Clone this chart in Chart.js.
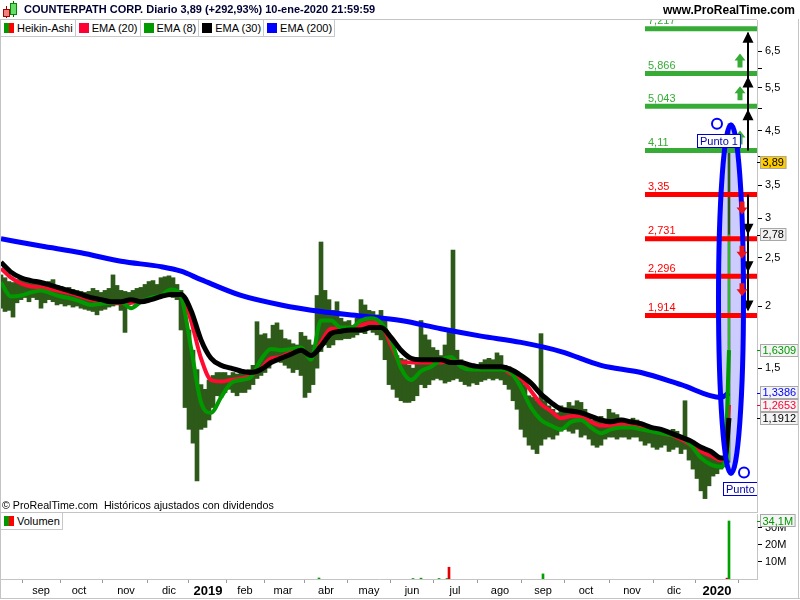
<!DOCTYPE html>
<html lang="es">
<head>
<meta charset="utf-8">
<title>CounterPath Corp. - Heikin-Ashi diario</title>
<script src="https://cdn.jsdelivr.net/npm/chart.js@4.4.1/dist/chart.umd.min.js"></script>
<style>
  html, body { margin: 0; padding: 0; background: #fff; }
  body { font-family: "Liberation Sans", Arial, sans-serif; color: #000; }
  #marco { position: relative; width: 800px; height: 600px; overflow: hidden; background: #fff; }
  canvas { position: absolute; left: 0; }
  #cPrecio { top: 0; }
  #cVolumen { top: 513px; }
  .capa { position: absolute; white-space: nowrap; }
  .linea { position: absolute; background: #c4c4c4; }
  #cabecera { left: 0; top: 0; width: 800px; height: 19px; background: #fff; }
  #titulo { left: 24px; top: 3px; font-weight: bold; font-size: 11px; color: #000033; }
  #web { right: 5px; top: 3px; font-weight: bold; font-size: 12px; color: #000; }
  .leyenda { display: flex; background: #fff; border-bottom: 1px solid #c8c8c8; }
  .item { display: flex; align-items: center; padding: 0 2px 0 3px; height: 16px; border-right: 1px solid #c8c8c8; font-size: 11px; }
  .icono { width: 10px; height: 10px; margin-right: 3px; }
  #copy { left: 2px; top: 499px; font-size: 10.7px; }
</style>
</head>
<body>
<div id="marco">
  <canvas id="cPrecio" width="800" height="513"></canvas>
  <canvas id="cVolumen" width="800" height="87"></canvas>

  <div id="cabecera" class="capa"></div>
  <!-- icono de velas -->
  <div class="capa" style="left:6px;top:6px;width:1px;height:12px;background:#900"></div>
  <div class="capa" style="left:3px;top:9px;width:5px;height:6px;background:#f08080;border:1px solid #a00"></div>
  <div class="capa" style="left:13px;top:1px;width:1px;height:16px;background:#060"></div>
  <div class="capa" style="left:10px;top:3px;width:5px;height:10px;background:#66dd66;border:1px solid #080"></div>
  <div id="titulo" class="capa">COUNTERPATH CORP. Diario 3,89 (+292,93%) 10-ene-2020 21:59:59</div>
  <div id="web" class="capa">www.ProRealTime.com</div>

  <div class="linea" style="left:0;top:19px;width:757px;height:1px"></div>
  <div class="linea" style="left:0;top:512px;width:757px;height:1px"></div>
  <div class="linea" style="left:0;top:19px;width:1px;height:580px"></div>
  <div class="linea" style="left:798px;top:19px;width:1px;height:580px"></div>
  <div class="linea" style="left:0;top:598px;width:800px;height:1px"></div>

  <div class="capa leyenda" style="left:1px;top:20px">
    <div class="item"><span class="icono" style="background:linear-gradient(90deg,#009900 50%,#ff0000 50%)"></span>Heikin-Ashi</div>
    <div class="item"><span class="icono" style="background:#ff0033"></span>EMA (20)</div>
    <div class="item"><span class="icono" style="background:#009900"></span>EMA (8)</div>
    <div class="item"><span class="icono" style="background:#000"></span>EMA (30)</div>
    <div class="item"><span class="icono" style="background:#0000ff"></span>EMA (200)</div>
  </div>
  <div id="copy" class="capa">© ProRealTime.com&nbsp; Históricos ajustados con dividendos</div>
  <div class="capa leyenda" style="left:1px;top:513px">
    <div class="item"><span class="icono" style="background:linear-gradient(90deg,#009900 50%,#ff0000 50%)"></span>Volumen</div>
  </div>
</div>

<script>
/* =========================
   DATOS
========================= */
// velas Heikin-Ashi, una cada 2 sesiones: máximo y mínimo
const haMax = [
  2.31, 2.28, 2.24, 2.23, 2.26, 2.27, 2.25, 2.23, 2.26, 2.24,
  2.21, 2.23, 2.24, 2.26, 2.20, 2.19, 2.17, 2.18, 2.16, 2.15,
  2.14, 2.13, 2.14, 2.17, 2.15, 2.13, 2.15, 2.17, 2.31, 2.20,
  2.15, 2.14, 2.13, 2.15, 2.17, 2.18, 2.21, 2.24, 2.25, 2.21,
  2.28, 2.29, 2.30, 2.28, 2.21, 2.15, 2.06, 1.79, 1.63, 1.49,
  1.39, 1.36, 1.42, 1.45, 1.47, 1.47, 1.47, 1.45, 1.47, 1.46,
  1.47, 1.47, 1.49, 1.52, 1.86, 1.75, 1.76, 1.72, 1.83, 1.85,
  1.79, 1.72, 1.71, 1.68, 1.67, 1.77, 1.74, 1.71, 1.67, 2.10,
  2.69, 2.15, 2.06, 1.96, 2.04, 1.89, 1.86, 1.87, 1.83, 1.89,
  2.06, 2.01, 1.96, 1.95, 1.92, 1.96, 1.87, 1.75, 1.63, 1.59,
  1.57, 1.56, 1.52, 1.50, 1.56, 1.87, 1.75, 1.71, 1.65, 1.63,
  1.59, 1.67, 1.79, 2.59, 1.63, 1.56, 1.54, 1.52, 1.53, 1.52,
  1.54, 1.56, 1.57, 1.56, 1.61, 1.59, 1.52, 1.51, 1.49, 1.45,
  1.42, 1.39, 1.32, 1.31, 1.29, 1.76, 1.29, 1.26, 1.24, 1.22,
  1.26, 1.25, 1.28, 1.26, 1.29, 1.28, 1.24, 1.19, 1.18, 1.19,
  1.20, 1.18, 1.24, 1.22, 1.21, 1.19, 1.18, 1.17, 1.19, 1.18,
  1.14, 1.14, 1.15, 1.13, 1.14, 1.12, 1.13, 1.11, 1.13, 1.12,
  1.10, 1.29, 1.08, 1.07, 1.05, 1.04, 1.03, 1.00, 0.99, 0.98,
  0.99, 0.99, 4.65
];
const haMin = [
  1.98, 1.95, 1.96, 1.90, 2.03, 2.06, 2.08, 2.04, 2.08, 2.06,
  1.98, 2.03, 2.06, 2.04, 2.01, 2.02, 2.00, 2.01, 1.99, 2.00,
  1.98, 1.97, 1.96, 1.95, 1.92, 1.96, 1.97, 1.99, 2.00, 2.01,
  1.96, 1.77, 2.01, 2.03, 2.04, 2.06, 2.07, 2.08, 2.08, 2.07,
  2.10, 2.09, 2.10, 2.08, 2.06, 1.79, 1.25, 1.13, 1.06, 0.89,
  1.13, 1.14, 1.18, 1.25, 1.32, 1.31, 1.34, 1.36, 1.34, 1.32,
  1.34, 1.34, 1.36, 1.39, 1.43, 1.45, 1.47, 1.50, 1.54, 1.56,
  1.54, 1.52, 1.50, 1.47, 1.49, 1.45, 1.31, 1.34, 1.39, 1.50,
  1.62, 1.67, 1.65, 1.67, 1.71, 1.71, 1.72, 1.72, 1.73, 1.75,
  1.77, 1.76, 1.79, 1.77, 1.75, 1.71, 1.56, 1.39, 1.36, 1.31,
  1.29, 1.28, 1.28, 1.29, 1.32, 1.39, 1.37, 1.39, 1.42, 1.43,
  1.42, 1.40, 1.41, 1.42, 1.43, 1.41, 1.39, 1.38, 1.40, 1.39,
  1.41, 1.42, 1.43, 1.42, 1.43, 1.42, 1.39, 1.36, 1.29, 1.24,
  1.13, 1.09, 1.05, 1.03, 1.01, 1.05, 1.08, 1.09, 1.08, 1.10,
  1.12, 1.13, 1.12, 1.11, 1.13, 1.09, 1.10, 1.08, 1.05, 1.04,
  1.05, 1.08, 1.09, 1.09, 1.08, 1.09, 1.09, 1.08, 1.09, 1.09,
  1.07, 1.05, 1.06, 1.04, 1.03, 1.04, 1.05, 1.02, 1.03, 1.04,
  1.01, 1.03, 0.98, 0.94, 0.90, 0.85, 0.82, 0.87, 0.91, 0.92,
  0.94, 0.95, 0.97
];
// cuerpo de la última vela (apertura, cierre HA)
const cuerpoUltima = [0.98, 2.78];

// medias móviles, muestreadas en estas sesiones
const diasEma = [
  0, 5, 10, 15, 20, 25, 30, 35, 40, 45,
  50, 55, 60, 65, 70, 75, 80, 85, 90, 95,
  100, 105, 110, 115, 120, 125, 130, 135, 140, 145,
  150, 155, 160, 165, 170, 175, 180, 185, 190, 195,
  200, 205, 210, 215, 220, 225, 230, 235, 240, 245,
  250, 255, 260, 265, 270, 275, 280, 285, 290, 295,
  300, 305, 310, 315, 320, 325, 330, 335, 340, 345,
  350, 355, 360, 362, 364
];
const ema8 = [
  2.23, 2.09, 2.10, 2.13, 2.15, 2.12, 2.09, 2.07, 2.04, 2.01,
  2.02, 2.03, 2.04, 1.98, 2.04, 2.08, 2.10, 2.16, 2.09, 1.65,
  1.28, 1.22, 1.31, 1.40, 1.42, 1.44, 1.56, 1.64, 1.63, 1.64,
  1.65, 1.56, 1.87, 1.87, 1.81, 1.81, 1.87, 1.89, 1.85, 1.71,
  1.50, 1.42, 1.48, 1.51, 1.56, 1.58, 1.51, 1.49, 1.49, 1.49,
  1.49, 1.47, 1.37, 1.25, 1.18, 1.15, 1.13, 1.17, 1.18, 1.14,
  1.11, 1.13, 1.14, 1.14, 1.13, 1.12, 1.11, 1.10, 1.09, 1.05,
  0.99, 0.96, 0.95, 0.98, 1.6309
];
const ema20 = [
  2.38, 2.28, 2.22, 2.19, 2.18, 2.16, 2.14, 2.12, 2.09, 2.06,
  2.04, 2.03, 2.03, 2.03, 2.04, 2.07, 2.09, 2.12, 2.11, 1.87,
  1.57, 1.42, 1.41, 1.42, 1.43, 1.45, 1.50, 1.57, 1.58, 1.62,
  1.64, 1.58, 1.69, 1.80, 1.80, 1.81, 1.83, 1.85, 1.84, 1.67,
  1.54, 1.54, 1.54, 1.54, 1.54, 1.55, 1.54, 1.51, 1.50, 1.50,
  1.50, 1.46, 1.43, 1.35, 1.27, 1.23, 1.19, 1.20, 1.20, 1.17,
  1.15, 1.15, 1.16, 1.15, 1.14, 1.13, 1.11, 1.10, 1.08, 1.05,
  1.02, 1.00, 0.98, 0.98, 1.2653
];
const ema30 = [
  2.45, 2.34, 2.28, 2.25, 2.23, 2.20, 2.17, 2.14, 2.11, 2.08,
  2.06, 2.04, 2.04, 2.06, 2.04, 2.06, 2.09, 2.11, 2.11, 1.96,
  1.71, 1.57, 1.52, 1.50, 1.48, 1.47, 1.49, 1.54, 1.57, 1.60,
  1.63, 1.59, 1.66, 1.76, 1.78, 1.79, 1.79, 1.81, 1.81, 1.73,
  1.63, 1.57, 1.56, 1.56, 1.56, 1.54, 1.54, 1.52, 1.51, 1.51,
  1.51, 1.49, 1.45, 1.40, 1.33, 1.28, 1.24, 1.23, 1.22, 1.20,
  1.18, 1.17, 1.18, 1.17, 1.16, 1.14, 1.13, 1.11, 1.09, 1.07,
  1.04, 1.02, 0.99, 0.99, 1.1912
];
const diasEma200 = [0, 20, 40, 60, 80, 90, 100, 120, 140, 160, 180, 200, 220, 240, 260, 280, 300, 320, 340, 360, 364];
const ema200 = [2.73, 2.64, 2.56, 2.46, 2.40, 2.35, 2.26, 2.10, 2.01, 1.95, 1.91, 1.87, 1.80, 1.74, 1.69, 1.62, 1.52, 1.47, 1.39, 1.31, 1.3386];

// niveles dibujados a mano
const nivelesSube = [7.217, 5.866, 5.043, 4.11];
const nivelesBaja = [3.35, 2.731, 2.296, 1.914];

// elipse "Punto 1" (sesiones y precios)
const elipseDias = [358.75, 371.25];
const elipsePrecios = [0.921, 4.63];
const textoPunto = 'Punto 1';

// etiquetas del eje de precios
const marcasPrecio = [1.5, 2, 2.5, 3, 3.5, 4, 4.5, 5, 5.5, 6, 6.5];
const etiquetasPrecio = ['1,5', '2', '2,5', '3', '3,5', '', '4,5', '', '5,5', '', '6,5'];
// valores recuadrados a la derecha
const valoresCaja = [3.89, 2.78, 1.6309, 1.3386, 1.2653, 1.1912];

// volumen (millones)
const diasVolumen = [159, 206, 210, 219, 223, 224, 271, 363, 364];
const volumen = [0.6, 0.3, 0.5, 0.3, 0.3, 6.9, 3.0, 0.5, 34.1];
const volumenSube = [true, true, true, true, true, false, true, false, true];
const marcasVolumen = [10, 20, 30];

// eje de tiempo
const etiquetasMes = ['sep', 'oct', 'nov', 'dic', '2019', 'feb', 'mar', 'abr', 'may', 'jun', 'jul', 'ago', 'sep', 'oct', 'nov', 'dic', '2020'];
const posicionesMes = [20, 39, 62.5, 84, 103.5, 122, 141, 162.5, 184, 205.5, 227, 249.5, 271, 292.5, 315.5, 336.5, 358];

/* =========================
   UTILIDADES
========================= */
const FUENTE = '"Liberation Sans", Arial, sans-serif';
Chart.defaults.font.family = FUENTE;
Chart.defaults.color = '#000';

const coma = v => String(v).replace('.', ',');
const VERDE_NIVEL = '#36ac36';
const ROJO_NIVEL = '#ff0000';

// el eje reserva media etiqueta arriba y abajo: lo quitamos
const ejeDerecho = s => { s.width = 43; s.paddingTop = 0; s.paddingBottom = 0; };

function elipse(chart) {
  const sx = chart.scales.x, sy = chart.scales.y;
  const izq = sx.getPixelForValue(elipseDias[0]);
  const der = sx.getPixelForValue(elipseDias[1]);
  const arr = sy.getPixelForValue(elipsePrecios[1]);
  const aba = sy.getPixelForValue(elipsePrecios[0]);
  return { cx: (izq + der) / 2, cy: (arr + aba) / 2, rx: (der - izq) / 2, ry: (aba - arr) / 2, arr, aba };
}

function triangulo(ctx, x, yPunta, dir) {
  // dir -1 = hacia arriba, 1 = hacia abajo
  ctx.beginPath();
  ctx.moveTo(x, yPunta);
  ctx.lineTo(x + 5.5, yPunta - dir * 11);
  ctx.lineTo(x - 5.5, yPunta - dir * 11);
  ctx.closePath();
  ctx.fill();
}

function flechaBloque(ctx, x, yCola, yPunta) {
  const dir = yPunta < yCola ? -1 : 1;
  const yBase = yPunta - dir * 7;
  ctx.beginPath();
  ctx.moveTo(x, yPunta);
  ctx.lineTo(x + 5.5, yBase);
  ctx.lineTo(x + 2.5, yBase);
  ctx.lineTo(x + 2.5, yCola);
  ctx.lineTo(x - 2.5, yCola);
  ctx.lineTo(x - 2.5, yBase);
  ctx.lineTo(x - 5.5, yBase);
  ctx.closePath();
  ctx.fill();
}

function caja(ctx, x, yCentro, texto, color, fondo) {
  ctx.font = '11px ' + FUENTE;
  const ancho = ctx.measureText(texto).width + 5;
  ctx.fillStyle = fondo;
  ctx.fillRect(x, Math.round(yCentro - 6.5), ancho, 13);
  ctx.strokeStyle = '#a8a8a8';
  ctx.lineWidth = 1;
  ctx.strokeRect(x + 0.5, Math.round(yCentro - 6.5) + 0.5, ancho - 1, 12);
  ctx.fillStyle = color;
  ctx.textBaseline = 'middle';
  ctx.textAlign = 'left';
  ctx.fillText(texto, x + 2.5, yCentro + 0.5);
}

/* =========================
   DIBUJOS SOBRE EL GRÁFICO
========================= */
const dibujosPrecio = {
  id: 'dibujosPrecio',
  beforeDatasetsDraw(chart) {
    const ctx = chart.ctx;
    const e = elipse(chart);
    ctx.save();
    ctx.beginPath();
    ctx.ellipse(e.cx, e.cy, e.rx, e.ry, 0, 0, Math.PI * 2);
    ctx.fillStyle = 'rgba(40, 40, 255, 0.24)';
    ctx.fill();
    ctx.restore();
  },
  afterDatasetsDraw(chart) {
    const ctx = chart.ctx;
    const sx = chart.scales.x, sy = chart.scales.y;
    const a = chart.chartArea;
    const X = v => sx.getPixelForValue(v);
    const Y = v => sy.getPixelForValue(v);
    ctx.save();
    ctx.beginPath();
    ctx.rect(0, 0, a.right, a.bottom);
    ctx.clip();

    // etiquetas de niveles
    ctx.font = '11px ' + FUENTE;
    ctx.textAlign = 'left';
    ctx.textBaseline = 'alphabetic';
    nivelesSube.forEach(v => {
      ctx.fillStyle = VERDE_NIVEL;
      ctx.fillText(coma(v), X(323.5), Y(v) - 4.5);
    });
    nivelesBaja.forEach(v => {
      ctx.fillStyle = ROJO_NIVEL;
      ctx.fillText(coma(v), X(323.5), Y(v) - 4.5);
    });

    // flechas de subida
    const xNegra = X(373.5);
    ctx.strokeStyle = '#000';
    ctx.lineWidth = 2;
    ctx.beginPath();
    ctx.moveTo(xNegra, Y(nivelesSube[3]));
    ctx.lineTo(xNegra, Y(nivelesSube[0]) + 4);
    ctx.stroke();
    ctx.fillStyle = '#000';
    for (let k = 0; k < 3; k++) triangulo(ctx, xNegra, Y(nivelesSube[k]) + 3, -1);
    ctx.fillStyle = VERDE_NIVEL;
    for (let k = 1; k < 4; k++) {
      const base = Y(nivelesSube[k]) - 6;
      flechaBloque(ctx, X(369.5), base, base - 14);
    }

    // flecha negra de bajada
    ctx.beginPath();
    ctx.moveTo(xNegra, Y(nivelesBaja[0]));
    ctx.lineTo(xNegra, Y(nivelesBaja[3]) - 6);
    ctx.stroke();
    ctx.fillStyle = '#000';
    for (let k = 1; k < 4; k++) triangulo(ctx, xNegra, Y(nivelesBaja[k]) - 4, 1);

    // elipse y puntos
    const e = elipse(chart);
    ctx.beginPath();
    ctx.ellipse(e.cx, e.cy, e.rx, e.ry, 0, 0, Math.PI * 2);
    ctx.strokeStyle = '#0000ff';
    ctx.lineWidth = 5;
    ctx.stroke();

    // flechas rojas encima de la elipse
    ctx.fillStyle = '#e8151b';
    for (let k = 0; k < 3; k++) {
      const ini = Y(nivelesBaja[k]) + 7;
      flechaBloque(ctx, X(370.5), ini, ini + 13);
    }

    ctx.strokeStyle = '#0000ff';
    ctx.lineWidth = 2;
    ctx.beginPath();
    ctx.arc(e.cx - 14, e.arr - 1, 5, 0, Math.PI * 2);
    ctx.stroke();
    ctx.beginPath();
    ctx.arc(e.cx + 13, e.aba - 1, 5, 0, Math.PI * 2);
    ctx.stroke();

    const etiqueta = (x, y) => {
      ctx.font = '11px ' + FUENTE;
      const w = ctx.measureText(textoPunto).width + 6;
      ctx.fillStyle = '#fff';
      ctx.fillRect(x, y, w, 14);
      ctx.strokeStyle = '#0000cc';
      ctx.lineWidth = 1;
      ctx.strokeRect(x + 0.5, y + 0.5, w - 1, 13);
      ctx.fillStyle = '#0000aa';
      ctx.textBaseline = 'middle';
      ctx.fillText(textoPunto, x + 3, y + 7.5);
    };
    etiqueta(Math.round(e.cx - 34), Math.round(e.arr + 9));
    etiqueta(Math.round(e.cx - 8), Math.round(e.aba + 8));
    ctx.restore();
  },
  afterDraw(chart) {
    const ctx = chart.ctx;
    const sy = chart.scales.y;
    const derecha = chart.chartArea.right;
    const estilos = [
      ['#000', '#ffcc00'],
      ['#000', '#f0f0f0'],
      ['#009900', '#f4f4f4'],
      ['#0000ff', '#f4f4f4'],
      ['#ff0033', '#f4f4f4'],
      ['#000', '#f4f4f4']
    ];
    ctx.save();
    let ultimo = -100;
    valoresCaja.forEach((v, k) => {
      const yv = sy.getPixelForValue(v);
      const yc = Math.max(yv, ultimo + 13);
      ultimo = yc;
      ctx.strokeStyle = estilos[k][0];
      ctx.lineWidth = 1;
      ctx.beginPath();
      ctx.moveTo(derecha, Math.round(yv) + 0.5);
      ctx.lineTo(derecha + 4, Math.round(yv) + 0.5);
      ctx.stroke();
      caja(ctx, derecha + 3, yc, coma(v), estilos[k][0], estilos[k][1]);
    });
    ctx.restore();
  }
};

const dibujosVolumen = {
  id: 'dibujosVolumen',
  afterDraw(chart) {
    const ctx = chart.ctx;
    const sy = chart.scales.y;
    const derecha = chart.chartArea.right;
    const v = volumen[volumen.length - 1];
    const yv = sy.getPixelForValue(v);
    ctx.save();
    ctx.strokeStyle = '#009900';
    ctx.beginPath();
    ctx.moveTo(derecha, Math.round(yv) + 0.5);
    ctx.lineTo(derecha + 4, Math.round(yv) + 0.5);
    ctx.stroke();
    caja(ctx, derecha + 3, yv, coma(v) + 'M', '#009900', '#f4f4f4');
    ctx.restore();
  }
};

/* =========================
   GRÁFICO DE PRECIOS
========================= */
const n = haMax.length;
const velas = haMax.slice(0, n - 1).map((h, k) => ({ x: k * 2, y: [haMin[k], h] }));
const ultimaX = (n - 1) * 2;

const lineaEma = (dias, valores, color, ancho, orden) => ({
  type: 'line',
  data: dias.map((d, k) => ({ x: d, y: valores[k] })),
  borderColor: color,
  borderWidth: ancho,
  pointRadius: 0,
  cubicInterpolationMode: 'monotone',
  order: orden
});

const lineaNivel = (v, color) => ({
  type: 'line',
  data: [{ x: 322, y: v }, { x: 378, y: v }],
  borderColor: color,
  borderWidth: 5,
  pointRadius: 0,
  order: 0
});

new Chart(document.getElementById('cPrecio'), {
  type: 'bar',
  data: {
    datasets: [
      { type: 'bar', data: velas, backgroundColor: '#2d5a19', barThickness: 4, grouped: false, order: 9 },
      { type: 'bar', data: [{ x: ultimaX, y: [haMin[n - 1], haMax[n - 1]] }], backgroundColor: '#2d5a19', barThickness: 2, grouped: false, order: 8 },
      { type: 'bar', data: [{ x: ultimaX, y: cuerpoUltima }], backgroundColor: '#33cc33', barThickness: 1, grouped: false, order: 7 },
      lineaEma(diasEma200, ema200, '#0000ff', 5, 6),
      lineaEma(diasEma, ema20, '#ff0a30', 4, 5),
      lineaEma(diasEma, ema8, '#009900', 4, 4),
      lineaEma(diasEma, ema30, '#000000', 5, 3),
      ...nivelesSube.map(v => lineaNivel(v, VERDE_NIVEL)),
      ...nivelesBaja.map(v => lineaNivel(v, ROJO_NIVEL))
    ]
  },
  options: {
    responsive: false,
    animation: false,
    layout: { autoPadding: false, padding: { left: 1, top: 20, right: 0, bottom: 1 } },
    plugins: { legend: { display: false }, tooltip: { enabled: false } },
    scales: {
      x: { type: 'linear', min: 0, max: 378, offset: false, display: false },
      y: {
        type: 'logarithmic',
        position: 'right',
        bounds: 'data',
        min: 0.7707,
        max: 7.518,
        afterFit: ejeDerecho,
        afterBuildTicks: s => { s.ticks = marcasPrecio.map(v => ({ value: v })); },
        ticks: {
          autoSkip: false,
          padding: 3,
          font: { size: 11 },
          color: '#000',
          callback: (v, i) => etiquetasPrecio[i]
        },
        grid: { drawOnChartArea: false, drawTicks: true, tickLength: 5, color: '#000' },
        border: { display: true, color: '#c4c4c4' }
      }
    }
  },
  plugins: [dibujosPrecio]
});

/* =========================
   GRÁFICO DE VOLUMEN
========================= */
new Chart(document.getElementById('cVolumen'), {
  type: 'bar',
  data: {
    datasets: [{
      data: diasVolumen.map((d, k) => ({ x: d, y: volumen[k] })),
      backgroundColor: volumenSube.map(s => (s ? '#00a000' : '#e00000')),
      barThickness: 2,
      grouped: false
    }]
  },
  options: {
    responsive: false,
    animation: false,
    layout: { autoPadding: false, padding: { left: 1, top: 1, right: 0, bottom: 0 } },
    plugins: { legend: { display: false }, tooltip: { enabled: false } },
    scales: {
      x: {
        type: 'linear',
        min: 0,
        max: 378,
        offset: false,
        afterFit: s => { s.height = 21; s.paddingLeft = 0; s.paddingRight = 0; },
        afterBuildTicks: s => { s.ticks = posicionesMes.map(v => ({ value: v })); },
        ticks: {
          autoSkip: false,
          maxRotation: 0,
          padding: 1,
          color: '#000',
          callback: (v, i) => etiquetasMes[i],
          font: c => (etiquetasMes[c.index] || '').length === 4
            ? { size: 13, weight: 'bold', family: FUENTE }
            : { size: 11, family: FUENTE }
        },
        grid: { drawOnChartArea: false, drawTicks: true, tickLength: 4, color: '#9a9a9a' },
        border: { display: true, color: '#c4c4c4' }
      },
      y: {
        position: 'right',
        bounds: 'data',
        min: 0,
        max: 38.2,
        afterFit: ejeDerecho,
        afterBuildTicks: s => { s.ticks = marcasVolumen.map(v => ({ value: v })); },
        ticks: {
          autoSkip: false,
          padding: 3,
          font: { size: 11 },
          color: '#000',
          callback: v => v + 'M'
        },
        grid: { drawOnChartArea: false, drawTicks: true, tickLength: 5, color: '#000' },
        border: { display: true, color: '#c4c4c4' }
      }
    }
  },
  plugins: [dibujosVolumen]
});
</script>
</body>
</html>
